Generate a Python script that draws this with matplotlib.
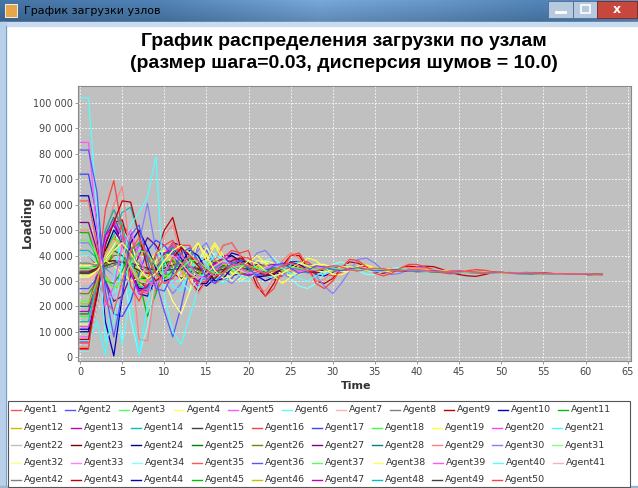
import numpy as np
import matplotlib
matplotlib.use("Agg")
import matplotlib.pyplot as plt
from matplotlib.patches import Rectangle
from matplotlib.ticker import FuncFormatter, MultipleLocator

# load of every agent per time step, in thousands
agent1 = [61.5, 61.5, 44, 22, 18, 30, 42, 47, 40, 33,
          29, 31, 36, 40, 38, 34, 32, 33, 36, 37,
          36, 34, 33, 34, 36, 37, 36, 34, 34, 35,
          36, 35.5, 34.5, 34, 34.5, 35, 34.8, 34.2, 34, 34.3,
          34.5, 34.2, 33.8, 33.6, 33.8, 34, 33.7, 33.4, 33.3, 33.5,
          33.4, 33.2, 33.1, 33.2, 33.1, 33, 32.9, 32.9, 32.8, 32.7,
          32.7, 32.6, 32.5]
agent2 = [81.5, 81.5, 65, 26, 8, 25, 48, 52, 38, 27,
          26, 33, 41, 43, 38, 31, 29, 33, 37, 38,
          35, 32, 33, 36, 37, 35, 33, 34, 36, 35.5,
          34.5, 34, 34.8, 35.2, 34.6, 34, 34.2, 34.6, 34.3, 33.9,
          33.8, 34, 34.1, 33.8, 33.5, 33.6, 33.7, 33.5, 33.3, 33.2,
          33.3, 33.2, 33, 33, 33.1, 32.9, 32.8, 32.8, 32.7, 32.7,
          32.6, 32.6, 32.5]
agent3 = [46, 46, 40, 31, 27, 30, 37, 42, 41, 36,
          32, 32, 35, 38, 38, 35, 33, 33, 35, 36,
          36, 35, 34, 34, 35, 35.5, 35, 34.5, 34.5, 35,
          35, 34.8, 34.5, 34.6, 34.8, 34.6, 34.3, 34.2, 34.3, 34.2,
          34, 33.9, 33.9, 33.8, 33.6, 33.5, 33.5, 33.4, 33.3, 33.3,
          33.2, 33.1, 33.1, 33, 32.9, 32.9, 32.8, 32.8, 32.7, 32.6,
          32.6, 32.5, 32.5]
agent4 = [32, 32, 34, 38, 42, 45, 41, 35, 31, 33,
          38, 42, 44, 41, 45, 40, 34, 31, 32, 35,
          38, 37, 34, 32, 33, 35, 37, 36, 34, 33.5,
          34.5, 35.5, 35.6, 34.8, 34, 34, 34.6, 34.9, 34.5, 34,
          33.8, 34, 34.3, 34.1, 33.7, 33.5, 33.6, 33.7, 33.5, 33.2,
          33.1, 33.2, 33.3, 33.1, 32.9, 32.9, 32.9, 32.8, 32.7, 32.6,
          32.6, 32.5, 32.5]
agent5 = [84.5, 84.5, 50, 20, 28, 44, 50, 40, 30, 28,
          33, 39, 40, 36, 32, 31, 34, 37, 37, 35,
          33, 33, 35, 36, 36, 35, 34, 34, 35, 35.5,
          35, 34.4, 34.2, 34.5, 34.8, 34.7, 34.3, 34.1, 34.2, 34.3,
          34.1, 33.8, 33.7, 33.8, 33.8, 33.6, 33.4, 33.4, 33.4, 33.3,
          33.1, 33, 33.1, 33.1, 33, 32.9, 32.8, 32.8, 32.7, 32.7,
          32.6, 32.5, 32.5]
agent6 = [102, 102, 58, 6, 14, 38, 52, 57, 63, 79,
          24, 10, 5, 16, 27, 36, 40, 39, 35, 32,
          31, 33, 35, 36, 35, 33, 31, 30, 32, 34,
          35.5, 36, 35, 34, 33.5, 34, 34.6, 34.8, 34.4, 34,
          33.7, 33.6, 33.9, 34, 33.8, 33.5, 33.3, 33.4, 33.5, 33.3,
          33.1, 33, 33, 33.1, 33, 32.9, 32.8, 32.7, 32.7, 32.6,
          32.6, 32.5, 32.5]
agent7 = [29, 29, 33, 40, 46, 43, 36, 30, 29, 33,
          38, 40, 37, 33, 31, 33, 36, 38, 36, 34,
          33, 34, 35.5, 36, 35, 34, 33.5, 34, 35, 35.5,
          35, 34.6, 34.4, 34.6, 34.8, 34.5, 34.2, 34.2, 34.4, 34.2,
          33.9, 33.8, 33.8, 33.7, 33.6, 33.5, 33.4, 33.4, 33.3, 33.2,
          33.1, 33.1, 33, 33, 32.9, 32.9, 32.8, 32.8, 32.7, 32.6,
          32.6, 32.5, 32.5]
agent8 = [37, 37, 36, 35, 36, 38, 39, 37, 34, 33,
          34, 36, 37, 36, 34, 33, 34, 35.5, 36, 35,
          34, 34, 35, 35.5, 35, 34.5, 34.5, 35, 35, 34.8,
          34.6, 34.5, 34.6, 34.6, 34.4, 34.3, 34.3, 34.2, 34.1, 34,
          33.9, 33.8, 33.7, 33.7, 33.6, 33.5, 33.4, 33.3, 33.3, 33.2,
          33.1, 33.1, 33, 33, 32.9, 32.8, 32.8, 32.7, 32.7, 32.6,
          32.6, 32.5, 32.5]
agent9 = [7, 7, 25, 44, 53, 61.5, 61, 48, 35, 30,
          33, 39, 43, 40, 36, 32, 31, 34, 38, 39,
          37, 34, 32, 33, 35.5, 37, 36, 34, 33, 34,
          35.5, 36, 35.2, 34.2, 33.8, 34.2, 34.8, 34.9, 34.5, 34,
          33.6, 33.7, 34, 34.1, 33.9, 33.5, 33.3, 33.4, 33.5, 33.4,
          33.2, 33, 33, 33.1, 33.1, 32.9, 32.8, 32.8, 32.8, 32.6,
          32.6, 32.5, 32.5]
agent10 = [63.5, 63.5, 48, 14, 0.5, 24, 45, 50, 43, 35,
           30, 31, 37, 42, 40, 34, 30, 31, 35, 38,
           37, 34, 32, 32.5, 35, 37, 36.5, 34.5, 33.5, 34,
           35, 35.4, 35, 34.3, 34, 34.3, 34.7, 34.6, 34.2, 33.9,
           33.8, 34, 34.2, 34, 33.6, 33.4, 33.6, 33.7, 33.4, 33.2,
           33.2, 33.3, 33.2, 33, 32.9, 33, 32.9, 32.8, 32.7, 32.6,
           32.6, 32.5, 32.5]
agent11 = [49, 49, 38, 30, 29, 34, 42, 45, 39, 33,
           31, 34, 38, 39, 36, 32, 31, 34, 37, 37,
           35, 33, 33.5, 35, 36, 35.5, 34.5, 34, 34.5, 35.5,
           35.5, 34.8, 34.2, 34.2, 34.6, 34.8, 34.5, 34.1, 34, 34.2,
           34.1, 33.8, 33.6, 33.6, 33.7, 33.6, 33.4, 33.3, 33.3, 33.3,
           33.2, 33.1, 33, 32.9, 32.9, 32.9, 32.8, 32.7, 32.7, 32.6,
           32.6, 32.5, 32.5]
agent12 = [21, 21, 30, 41, 47, 43, 35, 29, 30, 36,
           40, 39, 34, 31, 32, 36, 38, 37, 34, 33,
           34, 35.5, 36, 35, 34, 33.5, 34.5, 35.5, 35.5, 34.5,
           34, 34.3, 34.8, 35, 34.6, 34.2, 34, 34.2, 34.4, 34.3,
           34, 33.7, 33.6, 33.8, 33.8, 33.6, 33.4, 33.3, 33.4, 33.3,
           33.1, 33, 33, 33.1, 33, 32.9, 32.8, 32.8, 32.7, 32.6,
           32.6, 32.5, 32.5]
agent13 = [18, 18, 32, 48, 52, 44, 33, 26, 28, 35,
           41, 42, 37, 32, 30, 33, 37, 39, 37, 33,
           32, 33.5, 35.5, 36.5, 35.5, 34, 33.5, 34, 35, 35.5,
           35, 34.4, 34.1, 34.4, 34.9, 34.9, 34.4, 34, 34, 34.3,
           34.2, 33.9, 33.6, 33.5, 33.7, 33.8, 33.6, 33.3, 33.2, 33.3,
           33.2, 33, 32.9, 33, 33, 32.9, 32.8, 32.7, 32.7, 32.6,
           32.6, 32.5, 32.5]
agent14 = [14, 14, 30, 50, 58, 52, 38, 28, 27, 33,
           40, 43, 40, 34, 30, 31, 35, 38, 38, 35,
           33, 33, 34.5, 36, 36.5, 35, 33.5, 33.5, 34.5, 35.5,
           35.5, 34.8, 34.1, 34, 34.5, 34.9, 34.7, 34.2, 34, 34.1,
           34.2, 34, 33.7, 33.5, 33.5, 33.7, 33.7, 33.4, 33.2, 33.2,
           33.2, 33.1, 33, 32.9, 32.9, 32.9, 32.8, 32.8, 32.7, 32.6,
           32.6, 32.5, 32.5]
agent15 = [33, 33, 34, 36, 37, 37.5, 37, 36, 35, 34,
           34, 34.5, 35, 35.5, 35, 34.5, 34, 34.5, 35, 35,
           35, 34.5, 34.5, 34.8, 35, 35, 34.8, 34.6, 34.6, 34.7,
           34.7, 34.6, 34.5, 34.4, 34.4, 34.3, 34.2, 34.1, 34.1, 34,
           33.9, 33.8, 33.7, 33.7, 33.6, 33.5, 33.4, 33.4, 33.3, 33.2,
           33.1, 33.1, 33, 33, 32.9, 32.8, 32.8, 32.7, 32.7, 32.6,
           32.6, 32.5, 32.5]
agent16 = [3, 3, 30, 58, 69.5, 50, 28, 22, 30, 41,
           44, 46, 40, 33, 29, 30, 34, 39, 42, 41,
           42, 30, 24, 27, 34, 40, 41, 36, 29, 27,
           30, 35, 38.5, 38, 35.5, 33, 32, 33, 35, 36.5,
           36.5, 35.5, 34.2, 33.2, 32.8, 33.2, 34, 34.5, 34.2, 33.6,
           33.2, 33, 33.1, 33.3, 33.3, 33.1, 32.9, 32.8, 32.8, 32.8,
           32.7, 32.6, 32.5]
agent17 = [72, 72, 55, 30, 17, 16, 22, 33, 42, 46,
           44, 40, 36, 33, 31, 32, 35, 37, 37, 35,
           33, 32.5, 34, 35.5, 36, 35.5, 34.5, 33.5, 33.5, 34.5,
           35.5, 35.5, 35, 34.3, 34, 34.1, 34.5, 34.6, 34.3, 34,
           33.9, 34, 34, 33.8, 33.6, 33.5, 33.5, 33.5, 33.4, 33.2,
           33.1, 33.1, 33.1, 33, 32.9, 32.9, 32.8, 32.8, 32.7, 32.6,
           32.6, 32.5, 32.5]
agent18 = [16, 16, 27, 40, 47, 45, 37, 31, 30, 34,
           38, 40, 38, 35, 32, 32, 34.5, 37, 37.5, 35.5,
           33.5, 33.5, 35, 36, 35.5, 34.5, 34, 34, 35, 35.3,
           35, 34.6, 34.3, 34.4, 34.7, 34.7, 34.4, 34.1, 34.1, 34.2,
           34.1, 33.9, 33.7, 33.6, 33.6, 33.6, 33.5, 33.3, 33.2, 33.2,
           33.2, 33.1, 33, 32.9, 32.9, 32.9, 32.8, 32.7, 32.7, 32.6,
           32.6, 32.5, 32.5]
agent19 = [36, 36, 37, 38, 36, 33, 30, 31, 36, 41,
           42, 36, 30, 35, 45, 38, 44, 38, 33, 33,
           37, 40, 37, 32, 29, 31.5, 36, 39, 38, 35,
           32.5, 32.5, 34, 35.8, 36.2, 35.2, 34, 33.5, 33.9, 34.6,
           34.6, 34.3, 33.9, 33.6, 33.5, 33.7, 33.9, 33.8, 33.5, 33.2,
           33.1, 33.2, 33.3, 33.2, 33, 32.8, 32.8, 32.9, 32.8, 32.7,
           32.6, 32.5, 32.5]
agent20 = [12, 12, 28, 46, 54, 47, 34, 25, 26, 33,
           41, 44, 40, 33, 29, 30, 35, 39, 39, 36,
           33, 32.5, 34, 36, 36.5, 35.5, 34, 33.5, 34.3, 35.3,
           35.6, 35.1, 34.4, 34.1, 34.4, 34.8, 34.8, 34.4, 34, 34,
           34.2, 34.1, 33.8, 33.5, 33.5, 33.6, 33.7, 33.5, 33.3, 33.2,
           33.2, 33.1, 33, 32.9, 32.9, 32.9, 32.8, 32.8, 32.7, 32.6,
           32.6, 32.5, 32.5]
agent21 = [6.5, 6.5, 14, 1, 30, 50, 22, 1, 20, 42,
           38, 28, 26, 34, 40, 37, 31, 29, 33, 38,
           38, 35, 32, 31, 33.5, 36.5, 37.5, 35.5, 33, 32.5,
           34, 35.5, 35.8, 35, 34, 33.6, 34, 34.6, 34.8, 34.5,
           34, 33.6, 33.6, 33.9, 34, 33.8, 33.4, 33.2, 33.3, 33.4,
           33.3, 33.1, 32.9, 32.9, 33, 33, 32.9, 32.8, 32.7, 32.6,
           32.6, 32.5, 32.5]
agent22 = [40.5, 40.5, 38, 34, 32, 33, 36, 38, 37, 35,
           34, 34, 35, 36, 36, 35, 34, 34, 35, 35.5,
           35.3, 34.8, 34.5, 34.6, 34.9, 35, 34.8, 34.6, 34.6, 34.7,
           34.8, 34.7, 34.5, 34.4, 34.4, 34.4, 34.3, 34.2, 34.1, 34.1,
           34, 33.9, 33.8, 33.7, 33.6, 33.5, 33.5, 33.4, 33.3, 33.2,
           33.2, 33.1, 33, 33, 32.9, 32.9, 32.8, 32.7, 32.7, 32.6,
           32.6, 32.5, 32.5]
agent23 = [33.5, 33.5, 35, 37.5, 38, 37.5, 36, 34, 33, 33.5,
           35, 36.5, 37, 36, 34.5, 33.5, 33.5, 34.5, 35.5, 36,
           35.5, 34.5, 34, 34.3, 35, 35.4, 35.2, 34.7, 34.4, 34.6,
           34.9, 34.9, 34.6, 34.3, 34.3, 34.4, 34.4, 34.2, 34, 34,
           34, 33.9, 33.7, 33.6, 33.6, 33.5, 33.5, 33.4, 33.3, 33.2,
           33.1, 33.1, 33, 33, 32.9, 32.9, 32.8, 32.7, 32.7, 32.6,
           32.6, 32.5, 32.5]
agent24 = [10, 10, 24, 42, 50, 45, 34, 27, 27, 33,
           40, 43, 39, 33, 29, 29, 33, 38, 40, 38,
           34, 31.5, 32, 34.5, 36.5, 36.5, 35, 33.5, 33.5, 34.5,
           35.6, 35.8, 35.2, 34.4, 34, 34.2, 34.7, 34.8, 34.4, 34,
           33.9, 34, 34.1, 33.9, 33.5, 33.3, 33.5, 33.7, 33.6, 33.3,
           33.1, 33.1, 33.2, 33.1, 33, 32.9, 32.8, 32.8, 32.7, 32.6,
           32.6, 32.5, 32.5]
agent25 = [17, 17, 28, 38, 42, 40, 35, 31, 31, 34,
           37, 38, 37, 35, 33, 33, 34.5, 36, 36.5, 35.5,
           34, 33.5, 34.3, 35.3, 35.5, 35, 34.4, 34.2, 34.6, 35,
           35, 34.7, 34.4, 34.4, 34.6, 34.6, 34.4, 34.2, 34.1, 34.1,
           34, 33.9, 33.8, 33.7, 33.6, 33.5, 33.4, 33.4, 33.3, 33.2,
           33.2, 33.1, 33, 33, 32.9, 32.8, 32.8, 32.7, 32.7, 32.6,
           32.6, 32.5, 32.5]
agent26 = [25, 25, 30, 36, 40, 40, 36, 32, 31, 33,
           36, 37.5, 37, 35, 33, 33, 34.5, 36, 36.5, 35.5,
           34.5, 34, 34.5, 35.2, 35.3, 35, 34.6, 34.4, 34.6, 34.9,
           34.9, 34.7, 34.5, 34.4, 34.5, 34.5, 34.3, 34.2, 34.1, 34.1,
           34, 33.9, 33.8, 33.7, 33.6, 33.5, 33.4, 33.4, 33.3, 33.2,
           33.1, 33.1, 33, 33, 32.9, 32.9, 32.8, 32.7, 32.7, 32.6,
           32.6, 32.5, 32.5]
agent27 = [53, 53, 42, 30, 22, 24, 32, 40, 47, 44,
           38, 33, 31, 33, 37, 39, 37, 34, 32, 33,
           35, 36.5, 36, 34.5, 33.5, 33.8, 34.8, 35.5, 35.3, 34.6,
           34.1, 34.2, 34.6, 34.8, 34.6, 34.3, 34.1, 34.2, 34.3, 34.2,
           34, 33.8, 33.7, 33.7, 33.7, 33.6, 33.4, 33.3, 33.3, 33.3,
           33.2, 33.1, 33, 33, 32.9, 32.9, 32.8, 32.7, 32.7, 32.6,
           32.6, 32.5, 32.5]
agent28 = [20, 20, 33, 48, 55, 48, 37, 29, 29, 35,
           41, 41, 36, 32, 31, 34, 37.5, 38.5, 36.5, 33.5,
           32.5, 34, 36, 36.5, 35.5, 34, 33.5, 34.2, 35.2, 35.5,
           35, 34.4, 34.1, 34.4, 34.8, 34.8, 34.4, 34.1, 34.1, 34.3,
           34.2, 33.9, 33.6, 33.5, 33.6, 33.7, 33.6, 33.4, 33.2, 33.2,
           33.2, 33.1, 33, 32.9, 32.9, 32.9, 32.8, 32.8, 32.7, 32.6,
           32.6, 32.5, 32.5]
agent29 = [4, 4, 22, 48, 60, 67, 40, 7, 6.5, 30,
           48, 52, 40, 30, 25, 30, 38, 44, 45, 40,
           33, 27, 26, 31, 38, 41, 39, 34, 30, 30.5,
           34, 35.5, 36, 35.5, 34.5, 33.8, 33.8, 34.4, 35, 35.3,
           35.1, 34.5, 33.8, 33.4, 33.4, 33.8, 34.1, 34, 33.6, 33.2,
           33, 33.1, 33.3, 33.3, 33.1, 32.9, 32.8, 32.8, 32.8, 32.7,
           32.6, 32.5, 32.5]
agent30 = [45, 45, 40, 35, 32, 30, 31, 45, 60.5, 42,
           30, 25, 29, 37, 42, 45, 38, 31, 29, 32,
           36, 41, 42, 38, 33, 31, 33, 36, 32, 28,
           25, 29, 34, 38.5, 39, 37, 34, 32.5, 33, 34.5,
           35.5, 35.3, 34.5, 33.6, 33.2, 33.3, 33.7, 34, 33.8, 33.4,
           33.1, 33, 33.1, 33.2, 33.1, 32.9, 32.8, 32.7, 32.7, 32.7,
           32.6, 32.5, 32.5]
agent31 = [35.5, 35.5, 35, 36, 38, 39, 37, 34, 32, 33,
           35, 37, 37.5, 36, 34, 33, 33.5, 35, 36, 36,
           35, 34.3, 34.3, 34.8, 35.2, 35.2, 34.9, 34.6, 34.5, 34.7,
           34.8, 34.7, 34.5, 34.4, 34.4, 34.4, 34.3, 34.2, 34.1, 34,
           33.9, 33.9, 33.8, 33.7, 33.6, 33.5, 33.4, 33.4, 33.3, 33.2,
           33.1, 33.1, 33, 33, 32.9, 32.9, 32.8, 32.7, 32.7, 32.6,
           32.6, 32.5, 32.5]
agent32 = [31.5, 31.5, 34, 39, 44, 50, 45, 36, 34, 37,
           30, 22, 17, 26, 38, 43, 40, 34, 30, 31,
           35, 38, 37.5, 35, 32.5, 32, 33.5, 35.5, 36.5, 35.5,
           34.3, 33.8, 34.2, 34.9, 35.2, 35, 34.5, 34.1, 34, 34.3,
           34.4, 34.2, 33.8, 33.5, 33.5, 33.7, 33.7, 33.5, 33.3, 33.2,
           33.2, 33.2, 33.1, 33, 32.9, 32.9, 32.8, 32.8, 32.7, 32.6,
           32.6, 32.5, 32.5]
agent33 = [49.5, 49.5, 42, 30, 24, 27, 36, 43, 42, 36,
           30, 29, 33, 38, 39, 36, 32, 31, 34, 37,
           37, 35, 33, 33, 34.5, 35.8, 35.8, 34.6, 33.8, 34.2,
           35, 35.3, 35, 34.5, 34.1, 34.2, 34.5, 34.6, 34.3, 34,
           33.9, 33.9, 34, 33.8, 33.6, 33.4, 33.4, 33.5, 33.4, 33.2,
           33.1, 33.1, 33.1, 33, 32.9, 32.9, 32.8, 32.7, 32.7, 32.6,
           32.6, 32.5, 32.5]
agent34 = [2.5, 2.5, 20, 42, 52, 38, 15, 1, 12, 32,
           44, 40, 30, 26, 31, 38, 41, 38, 33, 30,
           30, 34, 38, 39, 36, 31, 28, 27, 29, 33,
           36.5, 37.5, 36, 34, 32.5, 32.5, 33.8, 35, 35.3, 34.6,
           33.6, 33.6, 33.9, 34.1, 34, 33.6, 33.3, 33.2, 33.4, 33.5,
           33.3, 33.1, 32.9, 32.9, 33, 33, 32.9, 32.8, 32.7, 32.6,
           32.6, 32.5, 32.5]
agent35 = [5.5, 5.5, 26, 50, 58, 50, 36, 26, 25, 32,
           41, 45, 41, 34, 29, 29, 33.5, 38, 40, 37.5,
           34, 32, 32.5, 34.5, 36.5, 36.5, 35, 33.5, 33.5, 34.6,
           35.6, 35.6, 35, 34.3, 34, 34.2, 34.6, 34.7, 34.4, 34,
           33.8, 33.9, 34, 33.9, 33.6, 33.4, 33.4, 33.6, 33.5, 33.3,
           33.1, 33, 33.1, 33.1, 33, 32.9, 32.8, 32.8, 32.7, 32.6,
           32.6, 32.5, 32.5]
agent36 = [27, 27, 31, 36, 38, 36, 40, 44, 42, 30,
           18, 8, 20, 35, 44, 42, 36, 31, 31, 35,
           38, 37.5, 35, 32.5, 32, 33.5, 35.5, 36.5, 35.5, 34,
           33.6, 34.2, 34.9, 35.1, 34.7, 34.2, 34, 34.2, 34.4, 34.3,
           34, 33.7, 33.6, 33.7, 33.8, 33.7, 33.4, 33.2, 33.3, 33.4,
           33.3, 33.1, 32.9, 32.9, 33, 33, 32.9, 32.8, 32.7, 32.6,
           32.6, 32.5, 32.5]
agent37 = [22, 22, 30, 38, 45, 46, 40, 33, 30, 32,
           37, 39, 38, 35, 32.5, 32.5, 34.5, 36.5, 37, 35.5,
           33.5, 33.5, 34.8, 35.8, 35.6, 34.7, 34, 34.1, 34.8, 35.3,
           35.1, 34.6, 34.3, 34.4, 34.7, 34.7, 34.4, 34.1, 34.1, 34.2,
           34.1, 33.9, 33.7, 33.6, 33.6, 33.6, 33.5, 33.3, 33.2, 33.2,
           33.2, 33.1, 33, 32.9, 32.9, 32.9, 32.8, 32.7, 32.7, 32.6,
           32.6, 32.5, 32.5]
agent38 = [13, 13, 28, 44, 50, 44, 33, 28, 31, 38,
           42, 38, 32, 30, 34, 40, 45, 40, 33, 30,
           32, 36, 38, 37, 34, 32, 32.5, 34.5, 36.5, 36.5,
           35, 33.8, 33.7, 34.3, 35, 35.2, 34.8, 34.2, 33.9, 34.1,
           34.4, 34.4, 34, 33.6, 33.4, 33.5, 33.7, 33.7, 33.4, 33.2,
           33.1, 33.1, 33.2, 33.1, 33, 32.9, 32.8, 32.8, 32.7, 32.6,
           32.6, 32.5, 32.5]
agent39 = [8, 8, 22, 38, 46, 43, 34, 27, 27, 33,
           39, 41, 38, 33, 30, 31, 35, 38, 38, 35.5,
           33, 33, 34.5, 36, 36.2, 35.2, 34, 33.8, 34.6, 35.4,
           35.4, 34.8, 34.2, 34.2, 34.6, 34.8, 34.5, 34.1, 34, 34.2,
           34.2, 33.9, 33.6, 33.5, 33.6, 33.7, 33.6, 33.4, 33.2, 33.2,
           33.2, 33.1, 33, 32.9, 32.9, 32.9, 32.8, 32.8, 32.7, 32.6,
           32.6, 32.5, 32.5]
agent40 = [40, 40, 37, 35, 32, 5, 25, 40, 47, 44,
           36, 30, 30, 34, 38, 39, 36, 33, 32, 33.5,
           35.5, 36.5, 35.8, 34.4, 33.6, 33.8, 34.6, 35.2, 35.1, 34.6,
           34.2, 34.2, 34.5, 34.7, 34.6, 34.3, 34.1, 34.1, 34.2, 34.2,
           34, 33.8, 33.7, 33.7, 33.7, 33.6, 33.4, 33.3, 33.3, 33.3,
           33.2, 33.1, 33, 33, 32.9, 32.9, 32.8, 32.7, 32.7, 32.6,
           32.6, 32.5, 32.5]
agent41 = [30, 30, 34, 39, 41, 39, 35, 32, 32, 34,
           36.5, 37.5, 36.5, 34.5, 33, 33, 34.5, 36, 36.5, 35.5,
           34.2, 33.8, 34.4, 35.2, 35.4, 35, 34.5, 34.3, 34.6, 35,
           35, 34.7, 34.4, 34.4, 34.6, 34.6, 34.4, 34.2, 34.1, 34.1,
           34, 33.9, 33.8, 33.7, 33.6, 33.5, 33.4, 33.4, 33.3, 33.2,
           33.1, 33.1, 33, 33, 32.9, 32.9, 32.8, 32.7, 32.7, 32.6,
           32.6, 32.5, 32.5]
agent42 = [34, 34, 35, 36, 36.5, 36, 35, 34, 34, 34.5,
           35.5, 36, 35.5, 34.5, 34, 34.2, 35, 35.5, 35.3, 34.8,
           34.5, 34.5, 34.8, 35, 35, 34.8, 34.6, 34.6, 34.7, 34.8,
           34.7, 34.6, 34.5, 34.4, 34.4, 34.3, 34.2, 34.2, 34.1, 34,
           33.9, 33.8, 33.7, 33.7, 33.6, 33.5, 33.4, 33.4, 33.3, 33.2,
           33.1, 33.1, 33, 33, 32.9, 32.9, 32.8, 32.7, 32.7, 32.6,
           32.6, 32.5, 32.5]
agent43 = [3.5, 3.5, 20, 40, 53, 54, 42, 30, 27, 40,
           50, 55, 42, 30, 26, 30, 38, 44, 45, 40,
           36, 28, 24, 29, 36, 40, 40, 35, 30, 29,
           31, 35, 37.5, 37, 35.2, 33.5, 33, 33.8, 35, 35.8,
           35.5, 35.8, 35.6, 34.5, 33.3, 32.5, 32, 31.8, 32.5, 33.3,
           33.1, 33, 33.2, 33.3, 33.2, 33, 32.8, 32.8, 32.8, 32.7,
           32.6, 32.5, 32.5]
agent44 = [11, 11, 26, 45, 52, 46, 34, 25, 24, 31,
           40, 45, 44, 37, 30, 28, 31, 37, 41, 40,
           36, 32, 30, 31.5, 35, 37.5, 37.5, 35, 32.5, 32,
           33.5, 35, 35.8, 35.5, 34.6, 33.8, 33.8, 34.4, 34.9, 34.8,
           34.3, 33.8, 33.6, 33.8, 34, 33.8, 33.4, 33.2, 33.3, 33.5,
           33.4, 33.1, 32.9, 32.9, 33, 33, 32.9, 32.8, 32.7, 32.6,
           32.6, 32.5, 32.5]
agent45 = [35, 35, 36, 34, 42, 47, 45, 30, 16, 25,
           38, 44, 41, 34, 30, 31, 35, 38, 38, 35,
           33, 33, 34.5, 36, 36.5, 35.5, 34, 33.5, 34.2, 35.2,
           35.5, 35, 34.4, 34.1, 34.4, 34.8, 34.7, 34.3, 34, 34.1,
           34.2, 34, 33.7, 33.5, 33.5, 33.6, 33.7, 33.5, 33.3, 33.2,
           33.2, 33.1, 33, 32.9, 32.9, 32.9, 32.8, 32.8, 32.7, 32.6,
           32.6, 32.5, 32.5]
agent46 = [50, 50, 41, 32, 27, 28, 34, 40, 41, 37,
           32, 30, 32, 36, 38.5, 37.5, 34, 32, 33, 35.5,
           36.8, 36, 34.4, 33.6, 34, 35, 35.6, 35.2, 34.5, 34.2,
           34.4, 34.8, 34.9, 34.6, 34.2, 34.1, 34.3, 34.4, 34.3, 34.1,
           33.9, 33.8, 33.8, 33.8, 33.7, 33.5, 33.4, 33.4, 33.4, 33.3,
           33.1, 33, 33, 33, 32.9, 32.9, 32.8, 32.7, 32.7, 32.6,
           32.6, 32.5, 32.5]
agent47 = [6, 6, 24, 44, 53, 47, 35, 27, 26, 33,
           41, 44, 39, 32, 28, 30, 35.5, 40, 40, 36.5,
           33, 31.5, 33, 35.5, 37, 36.2, 34.5, 33.2, 33.6, 35,
           35.8, 35.4, 34.6, 34, 34.1, 34.6, 34.9, 34.6, 34.1, 33.9,
           34, 34.1, 34, 33.7, 33.5, 33.5, 33.6, 33.6, 33.4, 33.2,
           33.1, 33.2, 33.2, 33.1, 33, 32.9, 32.8, 32.8, 32.7, 32.6,
           32.6, 32.5, 32.5]
agent48 = [42, 42, 39, 42, 48, 57, 59, 48, 36, 30,
           32, 37, 42, 42, 37, 32, 30, 32.5, 36.5, 38.5,
           37, 34, 32.5, 33, 35, 36.5, 36.2, 34.8, 33.8, 34,
           34.8, 35.3, 35.1, 34.5, 34.1, 34.1, 34.4, 34.6, 34.4, 34.1,
           33.8, 33.8, 33.9, 33.9, 33.7, 33.4, 33.3, 33.4, 33.5, 33.3,
           33.1, 33, 33.1, 33.1, 33, 32.9, 32.8, 32.7, 32.7, 32.6,
           32.6, 32.5, 32.5]
agent49 = [33, 33, 34.5, 37, 38, 37, 35.5, 34.5, 34.5, 35.5,
           36, 35.5, 34.5, 34, 34.5, 35.5, 36, 35.5, 34.8, 34.5,
           34.6, 35, 35.2, 35, 34.7, 34.6, 34.7, 34.8, 34.8, 34.7,
           34.6, 34.5, 34.5, 34.4, 34.3, 34.3, 34.2, 34.1, 34.1, 34,
           33.9, 33.8, 33.7, 33.7, 33.6, 33.5, 33.4, 33.4, 33.3, 33.2,
           33.1, 33.1, 33, 33, 32.9, 32.9, 32.8, 32.7, 32.7, 32.6,
           32.6, 32.5, 32.5]
agent50 = [40, 40, 36, 40, 46, 52, 48, 37, 28, 26,
           31, 38, 44, 44, 38, 32, 29, 31, 36, 39.5,
           39, 35.5, 32, 30.5, 32, 35, 37.5, 37.5, 35, 32.5,
           32, 33.4, 35, 35.8, 35.5, 34.6, 33.9, 33.9, 34.4, 34.9,
           35, 34.6, 34, 33.5, 33.4, 33.6, 33.9, 34, 33.7, 33.4,
           33.2, 33.1, 33.2, 33.3, 33.2, 33, 32.9, 32.8, 32.8, 32.7,
           32.6, 32.5, 32.5]

series = [agent1, agent2, agent3, agent4, agent5, agent6, agent7, agent8, agent9, agent10,
          agent11, agent12, agent13, agent14, agent15, agent16, agent17, agent18, agent19, agent20,
          agent21, agent22, agent23, agent24, agent25, agent26, agent27, agent28, agent29, agent30,
          agent31, agent32, agent33, agent34, agent35, agent36, agent37, agent38, agent39, agent40,
          agent41, agent42, agent43, agent44, agent45, agent46, agent47, agent48, agent49, agent50]
names = ["Agent%d" % (i + 1) for i in range(len(series))]

# JFreeChart default paint sequence
palette = ['#ff5555', '#5555ff', '#55ff55', '#ffff55', '#ff55ff', '#55ffff', '#ffafaf', '#808080',
           '#c00000', '#0000c0', '#00c000', '#c0c000', '#c000c0', '#00c0c0', '#404040',
           '#ff4040', '#4040ff', '#40ff40', '#ffff40', '#ff40ff', '#40ffff', '#c0c0c0',
           '#800000', '#000080', '#008000', '#808000', '#800080', '#008080',
           '#ff8080', '#8080ff', '#80ff80', '#ffff80', '#ff80ff', '#80ffff']

W, H = 638, 488
fig = plt.figure(figsize=(W / 100, H / 100), dpi=100, facecolor='white')

# overlay axes in pixel coordinates (window frame, titles, legend)
ov = fig.add_axes([0, 0, 1, 1], zorder=0)
ov.set_xlim(0, W)
ov.set_ylim(H, 0)
ov.axis('off')

# window title bar
xs = np.linspace(0, 1, W)
keys = [0, 0.25, 0.5, 0.68, 0.85, 1.0]
r = np.interp(xs, keys, [0x3e, 0x48, 0x6a, 0x5c, 0x4a, 0x58])
g = np.interp(xs, keys, [0x69, 0x75, 0x96, 0x88, 0x77, 0x85])
b = np.interp(xs, keys, [0x95, 0xa3, 0xc4, 0xb6, 0xa6, 0xb2])
shade = np.linspace(1.12, 0.92, 22)[:, None]
bar = np.clip(np.dstack([r, g, b])[0][None, :, :] * shade[:, :, None] / 255.0, 0, 1)
ov.imshow(bar, extent=(0, W, 22, 0), aspect='auto', zorder=1)
ov.add_patch(Rectangle((0, 22), W, 4, color='#c9dcef', zorder=1))
ov.add_patch(Rectangle((5, 4), 12, 13, facecolor='#e8a64a', edgecolor='#ffffff', lw=0.6, zorder=2))
ov.text(24, 11.5, 'График загрузки узлов', fontsize=8, color='black', va='center', ha='left',
        family='DejaVu Sans', zorder=3)
ov.add_patch(Rectangle((548, 1), 25, 17, facecolor='#b7c9de', edgecolor='#4c6c94', lw=0.6, zorder=2))
ov.add_patch(Rectangle((573, 1), 24, 17, facecolor='#b7c9de', edgecolor='#4c6c94', lw=0.6, zorder=2))
ov.add_patch(Rectangle((597, 1), 40, 17, facecolor='#c8473c', edgecolor='#6e2a25', lw=0.6, zorder=2))
ov.plot([556, 565], [12, 12], color='white', lw=2, zorder=3)
ov.add_patch(Rectangle((580.5, 5), 9, 8, fill=False, edgecolor='white', lw=1.2, zorder=3))
ov.text(617, 9.5, 'x', fontsize=9, fontweight='bold', color='white', ha='center', va='center', zorder=3)

# window borders
ov.add_patch(Rectangle((0, 22), 6, H - 22, color='#b8d0ea', zorder=1))
ov.plot([6, 6], [26, H], color='#7b9fc8', lw=0.8, zorder=1)
ov.add_patch(Rectangle((0, H - 2), W, 2, color='#9fb6cf', zorder=1))

# chart title
ov.text(344, 42, 'График распределения загрузки по узлам', fontsize=14, fontweight='bold',
        family='Liberation Sans', ha='center', va='center', color='black')
ov.text(344, 63, '(размер шага=0.03, дисперсия шумов = 10.0)', fontsize=14, fontweight='bold',
        family='Liberation Sans', ha='center', va='center', color='black')

# axis titles
ov.text(356, 386, 'Time', fontsize=8, fontweight='bold', ha='center', va='center', color='#333333')
ov.text(27, 222, 'Loading', fontsize=8.5, fontweight='bold', ha='center', va='center',
        rotation=90, color='#333333')

# plot area
ax = fig.add_axes([78 / W, 1 - 361 / H, (631 - 78) / W, (361 - 86) / H], zorder=2)
ax.set_facecolor('#c0c0c0')
for i in reversed(range(len(series))):
    vals = np.array(series[i]) * 1000
    ax.plot(np.arange(len(vals)), vals, color=palette[i % len(palette)], lw=0.9)

ax.set_xlim(-0.25, 65.4)
ax.set_ylim(-1500, 106700)
ax.xaxis.set_major_locator(MultipleLocator(5))
ax.yaxis.set_major_locator(MultipleLocator(10000))
ax.yaxis.set_major_formatter(FuncFormatter(lambda v, p: ("{:,}".format(int(round(v)))).replace(",", " ")))
ax.grid(True, color='white', linestyle=(0, (2, 2)), lw=0.6)
ax.set_axisbelow(True)
for s in ax.spines.values():
    s.set_color('#8a8a8a')
    s.set_linewidth(0.8)
ax.tick_params(length=2, width=0.6, color='#8a8a8a', labelsize=7, labelcolor='#444444', pad=2)

# legend box with flowing entries
ov.add_patch(Rectangle((8, 401), 622, 86, facecolor='white', edgecolor='#555555', lw=0.8, zorder=1))
rows = [(0, 11), (11, 21), (21, 31), (31, 41), (41, 50)]
row_y = [410, 427.5, 445, 462.5, 480]
renderer = fig.canvas.get_renderer()
for (start, stop), y in zip(rows, row_y):
    x = 11
    for i in range(start, stop):
        ov.plot([x, x + 10], [y, y], color=palette[i % len(palette)], lw=1.0, zorder=2)
        t = ov.text(x + 13, y, names[i], fontsize=6.8, color='#333333', ha='left', va='center', zorder=2)
        w = t.get_window_extent(renderer).width
        x = x + 13 + w + 7

fig.savefig('out.png', dpi=100, facecolor='white')
